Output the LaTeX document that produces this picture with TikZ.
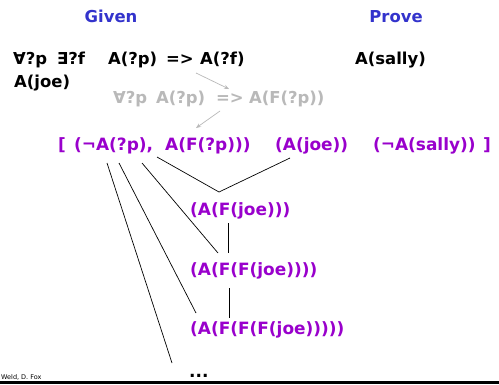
\documentclass[tikz,border=0pt]{standalone}
\usepackage{fontspec}
\setmainfont{DejaVu Sans}
\usetikzlibrary{arrows.meta}
\definecolor{ttlblue}{RGB}{51,51,204}
\definecolor{clpurple}{RGB}{153,0,204}
\definecolor{ghost}{RGB}{185,185,185}
\tikzset{
  txt/.style={inner sep=0pt, anchor=base west, font=\fontsize{16.5}{18}\selectfont\bfseries},
  ttl/.style={txt, anchor=base, text=ttlblue},
  given/.style={txt, text=black},
  clause/.style={txt, text=clpurple, font=\fontsize{17}{18}\selectfont\bfseries},
  ghosttxt/.style={txt, text=ghost},
  link/.style={black, line width=0.7pt},
  ghostarrow/.style={ghost, line width=0.7pt, -{Stealth[length=5pt,width=4pt]}}
}
\begin{document}
\begin{tikzpicture}[x=1bp,y=-1bp]
\useasboundingbox (0,0) rectangle (499,384);
\fill[white] (0,0) rectangle (499,384);
% titles
\node[ttl] (given) at (111,22) {Given};
\node[ttl] (prove) at (396,22) {Prove};
% given facts
\node[given] (r1) at (13,64) {∀?p};
\node[given] (r2) at (57,64) {∃?f};
\node[given] (r3) at (108,64) {A(?p)};
\node[given] (r4) at (166,64) {=>};
\node[given] (r5) at (200,64) {A(?f)};
\node[given] (joe) at (14,87) {A(joe)};
\node[given] (sally) at (355,64) {A(sally)};
% skolemized rule
\node[ghosttxt] (s1) at (113,103) {∀?p};
\node[ghosttxt] (s2) at (156,103) {A(?p)};
\node[ghosttxt] (s3) at (216,103) {=>};
\node[ghosttxt] (s4) at (249,103) {A(F(?p))};
\coordinate (ga1s) at (196,73);
\coordinate (ga1e) at (229,89);
\coordinate (ga2s) at (220,111);
\coordinate (ga2e) at (196,128);
\draw[ghostarrow] (ga1s) -- (ga1e);
\draw[ghostarrow] (ga2s) -- (ga2e);
% clause set
\node[clause] (lb) at (58,150) {[};
\node[clause] (c1a) at (74,150) {(¬A(?p),};
\node[clause] (c1b) at (165,150) {A(F(?p)))};
\node[clause] (c2) at (275,150) {(A(joe))};
\node[clause] (c3) at (373,150) {(¬A(sally))};
\node[clause] (rb) at (483,150) {]};
% derived clauses
\node[clause] (fj) at (190,215) {(A(F(joe)))};
\node[clause] (ffj) at (190,275) {(A(F(F(joe))))};
\node[clause] (fffj) at (190,334) {(A(F(F(F(joe)))))};
\node[given, font=\fontsize{17}{18}\selectfont\bfseries] (dots) at (189,377) {...};
% connector endpoints
\coordinate (p1) at (107,163);
\coordinate (p2) at (119,163);
\coordinate (p3) at (142,163);
\coordinate (p4) at (157,157);
\coordinate (q2) at (290,158);
\coordinate (m1) at (219,192);
\coordinate (fjb) at (228,223);
\coordinate (ffjt) at (228,253);
\coordinate (ffjl) at (218,253);
\coordinate (ffjb) at (229,288);
\coordinate (fffjt) at (229,318);
\coordinate (fffjl) at (196,313);
\coordinate (dotsl) at (172,363);
\draw[link] (p4) -- (m1) -- (q2);
\draw[link] (fjb) -- (ffjt);
\draw[link] (p3) -- (ffjl);
\draw[link] (ffjb) -- (fffjt);
\draw[link] (p2) -- (fffjl);
\draw[link] (p1) -- (dotsl);
% footer
\node[inner sep=0pt, anchor=base west, font=\fontsize{6.5}{8}\selectfont] (credit) at (1,379.5) {Weld, D. Fox};
\fill[black] (0,381) rectangle (499,384);
\end{tikzpicture}
\end{document}
